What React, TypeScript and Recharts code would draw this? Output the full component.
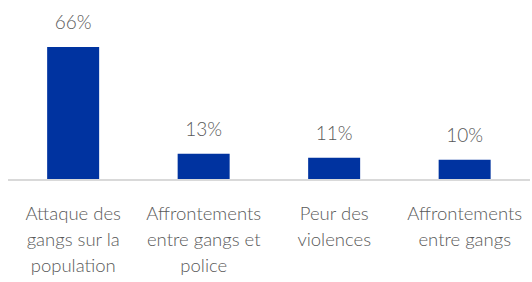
import { Bar, BarChart, LabelList, XAxis, YAxis } from "recharts";

const categories = [
  "Attaque des\ngangs sur la\npopulation",
  "Affrontements\nentre gangs et\npolice",
  "Peur des\nviolences",
  "Affrontements\nentre gangs",
];
const values = [66, 13, 11, 10];

const COLORS = {
  bar: "#0033a0",
  text: "#595959",
  axis: "#d9d9d9",
} as const;

const FONT = "Lato, 'Noto Sans', sans-serif";

const data = categories.map((name, i) => ({ name, value: values[i] }));

function CategoryTick({ x, y, payload }: any) {
  const lines = String(payload.value).split("\n");
  return (
    <text
      x={x}
      y={y}
      textAnchor="middle"
      fill={COLORS.text}
      fontFamily={FONT}
      fontWeight={300}
      fontSize={18.5}
    >
      {lines.map((line, i) => (
        <tspan key={i} x={x} dy={i === 0 ? 40 : 26}>
          {line}
        </tspan>
      ))}
    </text>
  );
}

export default function App() {
  return (
    <div style={{ position: "absolute", left: 0, top: 0, width: 532, height: 282, background: "#fff" }}>
      <BarChart
        width={532}
        height={282}
        data={data}
        margin={{ top: 47, right: 2, bottom: 0, left: 8 }}
        barCategoryGap="30%"
      >
        <XAxis
          dataKey="name"
          height={102}
          interval={0}
          tickLine={false}
          tickSize={0}
          tickMargin={0}
          axisLine={{ stroke: COLORS.axis, strokeWidth: 2 }}
          tick={<CategoryTick />}
        />
        <YAxis hide domain={[0, 66]} />
        <Bar dataKey="value" fill={COLORS.bar} isAnimationActive={false}>
          <LabelList
            dataKey="value"
            position="top"
            offset={18}
            formatter={(v: any) => `${v}%`}
            fill={COLORS.text}
            fontFamily={FONT}
            fontWeight={300}
            fontSize={19}
          />
        </Bar>
      </BarChart>
    </div>
  );
}
